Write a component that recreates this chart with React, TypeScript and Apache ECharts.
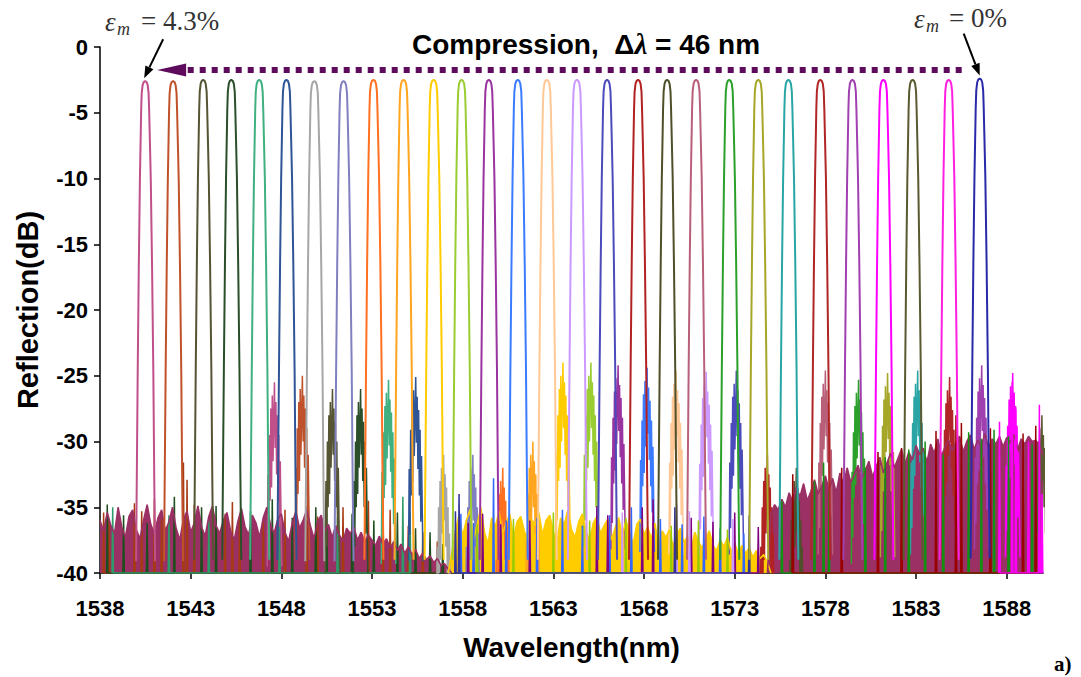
import React, { useEffect, useRef } from "react";
import * as echarts from "echarts";

const SANS = '"Liberation Sans", Arial, sans-serif';
const SERIF = '"Liberation Serif", "Times New Roman", serif';

// ---------- axis ticks ----------
const xTicks = [1538, 1543, 1548, 1553, 1558, 1563, 1568, 1573, 1578, 1583, 1588];

// ---------- peaks ----------
const peakCenters = [
  1540.49, 1542.03, 1543.69, 1545.24, 1546.78, 1548.28, 1549.82, 1551.43, 1553.08, 1554.74,
  1556.4, 1557.94, 1559.44, 1561.04, 1562.64, 1564.3, 1565.96, 1567.67, 1569.27, 1570.87,
  1572.7, 1574.3, 1575.96, 1577.72, 1579.49, 1581.2, 1582.81, 1584.8, 1586.51,
];
const peakTops = [
  -2.6, -2.6, -2.5, -2.5, -2.5, -2.5, -2.6, -2.6, -2.5, -2.5,
  -2.5, -2.5, -2.5, -2.5, -2.5, -2.5, -2.5, -2.5, -2.5, -2.5,
  -2.5, -2.5, -2.5, -2.5, -2.5, -2.5, -2.5, -2.5, -2.4,
];
const peakColors = [
  "#C0508A", "#C0522B", "#555533", "#2A4F2A", "#40B080", "#2F5597", "#A6A6A6", "#8080C0", "#FF7020", "#FFA520",
  "#FFCC00", "#9ACD32", "#9933A0", "#3B7BFF", "#FFC896", "#CC99FF", "#4B4BBB", "#B22222", "#4F4F2A", "#B8607A",
  "#2BA02B", "#A6A628", "#2AA5A5", "#B02525", "#A040B0", "#FF00FF", "#5A5A30", "#FF20E0", "#2A2AA8",
];
// grating profile shape read from one peak: offset (nm) and drop (dB) from top
const profileOffsets = [-0.5, -0.46, -0.41, -0.35, -0.29, -0.25, -0.22, -0.19, -0.14, -0.08, 0, 0.08, 0.14, 0.19, 0.22, 0.26, 0.31, 0.38, 0.45, 0.5, 0.55];
const profileDrops = [-36.5, -30, -22, -14, -7.5, -4.5, -2.2, -0.9, -0.3, -0.07, 0, -0.07, -0.3, -0.9, -2.2, -4.5, -7.5, -14, -22, -30, -36.5];

// side lobe of each spectrum, ~7.1 nm to the red side
const lobeShift = 7.13;
const lobeLevels = [
  -25.5, -25, -26, -26, -25.3, -25.1, -31, -31, -32, -30,
  -24, -24, -24.2, -24.4, -24.6, -24.7, -24.6, -31, -32, -24.6,
  -25.3, -24.8, -24.6, -25.1, -24.2, -24.8, -28, null, null,
];
const lobeOffsets = [-0.4, -0.36, -0.32, -0.28, -0.24, -0.2, -0.16, -0.12, -0.08, -0.04, 0, 0.04, 0.08, 0.12, 0.16, 0.2, 0.24, 0.28, 0.32, 0.36, 0.4];
const lobeDrops = [-14, -7, -12, -4, -9, -2, -8, -1, -6, -3, 0, -5, -1.5, -7, -2.5, -9, -4, -11, -6, -10, -14];

// ---------- noise floors (sampled every 0.2 nm) ----------
const leftFloorStart = 1538.0;
const leftFloor = [
  -36.0, -36.8, -35.4, -36.4, -37.0, -35.0, -36.5, -37.3, -35.7, -35.2,
  -36.7, -37.4, -36.0, -34.8, -36.3, -37.0, -35.8, -35.2, -36.8, -36.1,
  -35.0, -36.6, -37.5, -35.9, -35.3, -36.9, -36.2, -34.9, -36.5, -37.2,
  -35.7, -34.9, -36.4, -37.0, -36.0, -35.4, -36.8, -37.5, -36.1, -35.1,
  -36.5, -37.1, -35.6, -36.2, -37.3, -35.8, -35.0, -36.3, -37.0, -35.9,
  -35.5, -36.9, -37.6, -36.2, -35.3, -36.6, -36.0, -35.2, -36.4, -37.4,
  -36.1, -35.6, -36.8, -36.3, -37.3, -36.4, -37.1, -37.6, -36.6, -37.0,
  -36.5, -37.5, -36.9, -37.6, -37.1, -37.5, -37.9, -37.2, -37.8, -37.4,
  -38.1, -37.6, -38.3, -37.8, -38.5, -38.0, -38.6, -38.2, -38.9, -38.5,
  -39.0, -38.7, -39.2, -38.9, -39.4, -39.3, -39.7, -40,
];
const midFloorStart = 1557.2;
const midFloor = [
  -40, -38.5, -36.8, -35.6,
  -37.2, -36.0, -35.2, -37.5, -36.3, -35.0, -36.9, -37.8, -35.8, -36.5,
  -35.3, -37.0, -36.2, -35.5, -37.4, -36.1, -35.7, -36.8, -37.6, -35.9,
  -36.4, -35.4, -37.1, -36.0, -35.6, -36.9, -37.7, -35.8, -36.3, -35.2,
  -36.7, -37.3, -36.1, -35.5, -36.8, -37.6, -36.2, -35.7, -37.0, -36.4,
  -35.9, -37.5, -36.6, -35.8, -37.2, -36.0, -36.9, -37.8, -36.3, -35.9,
  -37.1, -36.5, -37.4, -36.2, -37.9, -36.8, -37.3, -36.7, -38.0, -37.1,
  -36.6, -37.7, -37.2, -38.2, -36.9, -37.6, -38.1, -37.4, -36.8, -37.9,
  -38.3, -37.5, -38.0, -37.3, -38.4, -37.7, -38.6, -37.9, -38.5, -38.1,
  -38.8, -38.3, -38.9, -38.6, -39.2, -40,
];
const rightFloorStart = 1574.8;
const rightFloor = [
  -40,
  -35.5, -34.8, -35.2, -34.4, -35.0, -33.9, -34.6, -33.5, -34.2, -33.2,
  -34.5, -33.8, -32.9, -34.0, -33.4, -32.6, -33.7, -32.8, -33.9, -32.4,
  -33.3, -32.0, -33.1, -32.5, -31.8, -32.9, -32.2, -31.5, -32.7, -31.9,
  -31.2, -32.4, -31.6, -30.9, -32.0, -31.3, -30.6, -31.7, -30.8, -31.4,
  -30.3, -31.0, -30.5, -31.6, -30.2, -30.9, -29.8, -31.1, -30.4, -29.9,
  -30.7, -30.1, -29.6, -30.8, -30.0, -29.5, -30.6, -29.9, -30.3, -29.4,
  -30.5, -29.8, -30.2, -29.6, -30.4, -29.7, -30.1, -29.5, -30.6, -29.8,
  -30.2, -29.6, -30.0, -29.9, -30.3,
  -31.0,
];
const floorStep = 0.2;

// ---------- noise spikes of other spectra [nm, dB] ----------
const brownSpikes = [
  [1538.2, -35.4], [1538.5, -36.0], [1539.9, -34.7], [1540.3, -35.3], [1541.0, -34.4], [1541.4, -35.9],
  [1542.6, -31.6], [1542.8, -32.9], [1543.2, -34.8], [1544.9, -35.5], [1545.3, -34.6], [1545.7, -35.8],
  [1547.0, -36.1], [1548.2, -35.2], [1549.4, -34.9], [1550.0, -35.7], [1551.4, -35.0], [1552.8, -34.5],
  [1553.6, -33.5], [1554.0, -35.2], [1555.0, -36.4], [1555.8, -36.9], [1556.6, -37.6],
];
const darkGreenSpikes = [
  [1538.4, -34.8], [1539.3, -35.6], [1540.6, -36.2], [1542.1, -34.2], [1543.6, -35.0], [1544.4, -34.9],
  [1546.3, -35.3], [1547.5, -34.4], [1548.6, -35.8], [1549.9, -35.0], [1550.5, -34.3], [1551.9, -35.5],
  [1553.1, -36.0], [1554.4, -35.4], [1555.4, -36.6], [1556.2, -36.9], [1556.9, -37.8],
];
const tealSpikes = [
  [1538.7, -35.0], [1541.8, -35.6], [1544.0, -36.0], [1547.9, -35.4], [1551.1, -35.8], [1554.7, -34.2], [1555.1, -35.3],
];
const blueSpikes = [
  [1557.9, -35.5], [1558.6, -36.2], [1559.7, -32.8], [1560.4, -36.0], [1562.1, -35.8], [1563.5, -35.2],
  [1564.6, -36.4], [1566.1, -35.6], [1567.3, -35.0], [1568.9, -35.9], [1570.1, -36.3], [1571.3, -35.7],
  [1572.2, -36.6], [1573.5, -37.0],
];
const purpleSpikes = [
  [1558.3, -36.2], [1559.1, -35.5], [1560.1, -36.3], [1561.7, -36.0], [1565.4, -34.9], [1566.0, -35.6],
  [1567.9, -35.0], [1568.5, -34.4], [1570.6, -35.8], [1571.8, -36.1], [1573.0, -35.4], [1574.3, -36.5],
];
const limeSpikes = [
  [1558.8, -36.3], [1560.8, -35.9], [1563.0, -35.4], [1565.0, -36.0], [1567.0, -35.8], [1569.5, -36.4],
  [1571.0, -36.0], [1572.6, -36.7],
];
const lavenderSpikes = [[1566.8, -35.4], [1569.8, -34.8], [1570.5, -35.3], [1572.9, -35.9]];
const navySpikes = [[1557.6, -35.3], [1557.8, -34.0], [1569.7, -35.0], [1573.8, -35.6]];
const greenLines = [
  [1575.6, -34.5], [1577.4, -33.0], [1577.9, -31.6], [1578.2, -33.8], [1580.2, -32.0], [1581.3, -31.2],
  [1582.6, -30.6], [1583.5, -30.0], [1584.5, -31.0], [1585.9, -29.3], [1586.6, -29.8], [1587.3, -29.1],
  [1588.1, -29.6], [1589.4, -30.2],
];
const darkRedSpikes = [
  [1576.2, -32.5], [1578.9, -32.0], [1580.9, -30.8], [1582.2, -30.5], [1584.1, -29.2], [1585.2, -28.0],
  [1585.5, -28.6], [1587.1, -29.0], [1588.9, -29.4], [1589.6, -28.8],
];
const magentaSpikes = [[1587.6, -28.5], [1588.3, -25.5], [1588.5, -27.5], [1589.2, -30.0], [1589.8, -27.2], [1589.95, -34]];

// ---------- builders ----------
const floorData = (start: number, vals: number[]) => vals.map((v, i) => [+(start + i * floorStep).toFixed(2), v]);
const spikeData = (list: number[][]) => {
  const out: number[][] = [];
  list.forEach(([x, l]) => {
    out.push([x - 0.04, -40], [x, l], [x + 0.04, -40]);
  });
  return out;
};
const lineSeries = (name: string, data: number[][], color: string, width: number, extra: any = {}) => ({
  name,
  type: "line",
  data,
  showSymbol: false,
  symbol: "none",
  silent: true,
  lineStyle: { color, width },
  itemStyle: { color },
  ...extra,
});
const areaSeries = (name: string, data: number[][], color: string) =>
  lineSeries(name, data, color, 1.6, { areaStyle: { color, opacity: 1, origin: "start" } });

function buildSeries() {
  const s: any[] = [];
  s.push(lineSeries("brown", spikeData(brownSpikes), "#A63A12", 1.5));
  s.push(lineSeries("dkgreen", spikeData(darkGreenSpikes), "#1E4D1E", 1.5));
  s.push(lineSeries("teal", spikeData(tealSpikes), "#2E9A6A", 1.5));
  peakCenters.forEach((c, i) => {
    const lv = lobeLevels[i];
    if (lv == null) return;
    s.push(lineSeries("lobe" + i, lobeOffsets.map((o, j) => [c + lobeShift + o, lv + lobeDrops[j]]), peakColors[i], 1.5));
  });
  s.push(areaSeries("leftFloor", floorData(leftFloorStart, leftFloor), "#9B3064"));
  s.push(areaSeries("midFloor", floorData(midFloorStart, midFloor), "#FFCC00"));
  s.push(lineSeries("blue", spikeData(blueSpikes), "#3366FF", 1.5));
  s.push(lineSeries("purple", spikeData(purpleSpikes), "#800080", 1.5));
  s.push(lineSeries("lime", spikeData(limeSpikes), "#99CC00", 1.5));
  s.push(lineSeries("lavender", spikeData(lavenderSpikes), "#CC99FF", 1.5));
  s.push(lineSeries("navy", spikeData(navySpikes), "#333399", 1.5));
  s.push(areaSeries("rightFloor", floorData(rightFloorStart, rightFloor), "#9B3064"));
  s.push(lineSeries("green", spikeData(greenLines), "#119011", 1.5));
  s.push(lineSeries("darkred", spikeData(darkRedSpikes), "#990000", 1.5));
  s.push(lineSeries("magenta", spikeData(magentaSpikes), "#FF00FF", 1.5));
  peakCenters.forEach((c, i) => {
    s.push(lineSeries("peak" + i, profileOffsets.map((o, j) => [c + o, peakTops[i] + profileDrops[j]]), peakColors[i], 2));
  });
  return s;
}

function arrow(x1: number, y1: number, x2: number, y2: number, color: string, w: number, hl: number, hw: number, dash?: number[]) {
  const dx = x2 - x1, dy = y2 - y1;
  const len = Math.sqrt(dx * dx + dy * dy);
  const ux = dx / len, uy = dy / len;
  const bx = x2 - ux * hl, by = y2 - uy * hl;
  return [
    {
      type: "line",
      silent: true,
      shape: { x1, y1, x2: bx, y2: by },
      style: { stroke: color, lineWidth: w, lineDash: dash || null, lineCap: "butt" },
    },
    {
      type: "polygon",
      silent: true,
      shape: { points: [[x2, y2], [bx - uy * hw, by + ux * hw], [bx + uy * hw, by - ux * hw]] },
      style: { fill: color },
    },
  ];
}

export default function App() {
  const ref = useRef<HTMLDivElement>(null);
  useEffect(() => {
    const chart = echarts.init(ref.current!, null, { renderer: "svg" });
    const tickStyle = { fontFamily: SANS, fontWeight: "bold", fontSize: 22, color: "#000" };
    chart.setOption({
      animation: false,
      backgroundColor: "#ffffff",
      grid: { left: 100, right: 38, top: 47, bottom: 104, containLabel: false },
      xAxis: {
        type: "value",
        min: 1538,
        max: 1590,
        axisLine: { show: true, onZero: false, lineStyle: { color: "#000", width: 1.5 } },
        axisTick: { show: true, length: 6, customValues: xTicks, lineStyle: { color: "#000", width: 1.5 } },
        axisLabel: { customValues: xTicks, margin: 24, formatter: (v: number) => String(v), ...tickStyle },
        splitLine: { show: false },
        name: "Wavelength(nm)",
        nameLocation: "middle",
        nameGap: 60,
        nameTextStyle: { fontFamily: SANS, fontWeight: "bold", fontSize: 28, color: "#000" },
      },
      yAxis: {
        type: "value",
        min: -40,
        max: 0,
        interval: 5,
        axisLine: { show: true, onZero: false, lineStyle: { color: "#000", width: 1.5 } },
        axisTick: { show: true, length: 6, lineStyle: { color: "#000", width: 1.5 } },
        axisLabel: { margin: 12, formatter: (v: number) => String(v), ...tickStyle },
        splitLine: { show: false },
        name: "Reflection(dB)",
        nameLocation: "middle",
        nameRotate: 90,
        nameGap: 58,
        nameTextStyle: { fontFamily: SANS, fontWeight: "bold", fontSize: 29, color: "#000" },
      },
      series: buildSeries(),
    });

    const px = (x: number, y: number) => chart.convertToPixel({ gridIndex: 0 }, [x, y]) as number[];
    const pL = px(peakCenters[0], peakTops[0]);
    const pR = px(peakCenters[peakCenters.length - 1], peakTops[peakTops.length - 1]);
    const yDot = px(1560, -1.75)[1];
    const purple = "#5E0B5E";

    const graphic: any[] = [
      // dotted compression arrow
      ...arrow(pR[0] - 18, yDot, pL[0] + 12, yDot, purple, 6, 29, 6.5, [6, 6]),
      // epsilon arrows
      ...arrow(pL[0] + 18, pL[1] - 42, pL[0] - 1, pL[1] - 3, "#000", 2, 12, 4.5),
      ...arrow(pR[0] - 16, pR[1] - 45, pR[0], pR[1] - 3, "#000", 2, 12, 4.5),
      {
        type: "text",
        x: 412,
        y: 44,
        silent: true,
        style: {
          text: "{a|Compression,  \u0394}{b|\u03bb}{a| = 46 nm}",
          fill: "#000",
          align: "left",
          verticalAlign: "middle",
          rich: {
            a: { fontFamily: SANS, fontWeight: "bold", fontSize: 28, fill: "#000" },
            b: { fontFamily: SERIF, fontWeight: "bold", fontStyle: "italic", fontSize: 29, fill: "#000" },
          },
        },
      },
      { type: "text", x: 105, y: 22, silent: true, style: { text: "\u03b5", font: `italic 27px ${SERIF}`, fill: "#333", align: "left", verticalAlign: "middle" } },
      { type: "text", x: 117, y: 29, silent: true, style: { text: "m", font: `italic 18px ${SERIF}`, fill: "#333", align: "left", verticalAlign: "middle" } },
      { type: "text", x: 141, y: 21, silent: true, style: { text: "= 4.3%", font: `27px ${SERIF}`, fill: "#333", align: "left", verticalAlign: "middle" } },
      { type: "text", x: 914, y: 19, silent: true, style: { text: "\u03b5", font: `italic 27px ${SERIF}`, fill: "#333", align: "left", verticalAlign: "middle" } },
      { type: "text", x: 926, y: 26, silent: true, style: { text: "m", font: `italic 18px ${SERIF}`, fill: "#333", align: "left", verticalAlign: "middle" } },
      { type: "text", x: 949, y: 18, silent: true, style: { text: "= 0%", font: `27px ${SERIF}`, fill: "#333", align: "left", verticalAlign: "middle" } },
      { type: "text", x: 1054, y: 664, silent: true, style: { text: "a)", font: `bold 21px ${SERIF}`, fill: "#000", align: "left", verticalAlign: "middle" } },
    ];
    chart.setOption({ graphic });
    return () => chart.dispose();
  }, []);
  return (
    <div
      ref={ref}
      style={{ position: "fixed", left: 0, top: 0, width: 1081, height: 677, background: "#fff" }}
    />
  );
}
